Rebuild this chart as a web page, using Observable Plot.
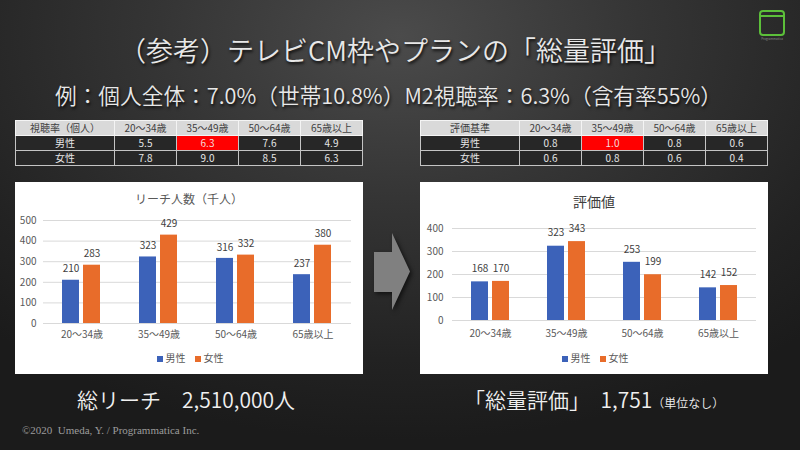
<!DOCTYPE html>
<html lang="ja">
<head>
<meta charset="utf-8">
<script src="https://cdn.jsdelivr.net/npm/d3@7"></script>
<script src="https://cdn.jsdelivr.net/npm/@observablehq/plot@0.6"></script>
<style>
  html, body { margin: 0; padding: 0; background: #1c1c1c; }
  #slide {
    position: relative; width: 800px; height: 450px; overflow: hidden;
    background: radial-gradient(ellipse 75% 90% at 50% 8%, #4b4b4b 0%, #353535 40%, #222 80%, #1b1b1b 100%);
    font-family: "Noto Sans CJK JP", "Noto Sans", sans-serif;
  }
  .abs { position: absolute; }
  .light { font-family: "Noto Sans CJK JP DemiLight", "Noto Sans CJK JP Light", "Noto Sans CJK JP", sans-serif; font-weight: 300; }
  #title {
    left: 0; width: 790px; top: 31px; text-align: center;
    font-size: 27px; line-height: 38px; color: #e8e8e8;
    text-shadow: 1px 2px 3px rgba(0,0,0,0.85);
  }
  #subtitle {
    left: 0; width: 777px; top: 81px; text-align: center;
    font-size: 21.7px; line-height: 28px; color: #e8e8e8;
    text-shadow: 1px 2px 3px rgba(0,0,0,0.85);
  }
  table.tbl {
    position: absolute; border-collapse: collapse; table-layout: fixed;
    font-size: 10px; top: 120px; width: 347px;
  }
  table.tbl td {
    border: 1px solid #c4c4c4; height: 14px; padding: 0; text-align: center;
    line-height: 14px; color: #e6e6e6; background: #272727;
  }
  table.tbl tr.head td { background: #d9d9d9; color: #404040; border-color: #f4f4f4; }
  table.tbl td.hl { background: #ff0000; color: #f6dede; }
  .box { position: absolute; top: 182px; width: 348px; height: 192px; background: #fff; }
  .ctitle { position: absolute; left: 0; width: 348px; text-align: center; color: #595959; }
  .chart { position: absolute; left: 0; top: 0; }
  .legend {
    position: absolute; left: 0; width: 350px; top: 169px; display: flex; justify-content: center;
    gap: 9px; font-size: 10px; color: #595959; line-height: 14px;
  }
  .legend span.sw { display: inline-block; width: 6px; height: 6px; margin-right: 3px; vertical-align: 0px; }
  .big { font-size: 21px; color: #f0f0f0; line-height: 28px; white-space: pre; top: 385px; }
  #copy {
    left: 22px; top: 424px; font-family: "Liberation Serif", serif; font-size: 11px; color: #9c9c9c; white-space: pre;
  }
  #logo {
    left: 759px; top: 10px; width: 22px; height: 22px; border: 2px solid #5cbf3a; border-radius: 4px;
  }
  #logo .bar { position: absolute; left: 0; right: 0; top: 3px; border-top: 2px solid #5cbf3a; }
  #logoText { left: 752px; top: 37px; width: 40px; text-align: center; font-size: 3px; color: #888; }
</style>
</head>
<body>
<div id="slide">
  <div id="title" class="abs light">（参考）テレビCM枠やプランの「総量評価」</div>
  <div id="subtitle" class="abs light">例：個人全体：7.0%（世帯10.8%）M2視聴率：6.3%（含有率55%）</div>
  <div id="logo" class="abs"><div class="bar"></div></div>
  <div id="logoText" class="abs">Programmatica</div>

  <table id="t1" class="tbl" style="left:15px"></table>
  <table id="t2" class="tbl" style="left:420px"></table>

  <div class="box" id="box1" style="left:15px">
    <div class="ctitle" style="top:8px;font-size:12px;line-height:18px">リーチ人数（千人）</div>
    <div class="chart" id="c1"></div>
    <div class="legend" id="lg1"></div>
  </div>
  <div class="box" id="box2" style="left:420px">
    <div class="ctitle" style="top:9px;font-size:14px;line-height:20px;color:#404040">評価値</div>
    <div class="chart" id="c2"></div>
    <div class="legend" id="lg2"></div>
  </div>

  <svg class="abs" style="left:370px;top:228px" width="46" height="88">
    <polygon points="4,24 22,24 22,5 40,43.5 22,82 22,64 4,64" fill="#808080" style="filter:drop-shadow(2px 2px 2px rgba(0,0,0,0.6))"></polygon>
  </svg>

  <div class="abs big light" id="bl" style="left:77px">総リーチ　2,510,000人</div>
  <div class="abs big light" id="br" style="left:464px">「総量評価」　1,751<span style="font-size:12px">（単位なし）</span></div>
  <div id="copy" class="abs">©2020  Umeda, Y. / Programmatica Inc.</div>
</div>

<script>
// ---- data ----
const ages = ["20～34歳", "35～49歳", "50～64歳", "65歳以上"];
const sexes = ["男性", "女性"];
const colors = ["#3c62b9", "#e86c2a"];

const ratingHeader = "視聴率（個人）";
const ratingMale = [5.5, 6.3, 7.6, 4.9];
const ratingFemale = [7.8, 9.0, 8.5, 6.3];

const weightHeader = "評価基準";
const weightMale = [0.8, 1.0, 0.8, 0.6];
const weightFemale = [0.6, 0.8, 0.6, 0.4];

const highlightRow = "男性";
const highlightCol = "35～49歳";

const reachTitle = "リーチ人数（千人）";
const reachMale = [210, 323, 316, 237];
const reachFemale = [283, 429, 332, 380];
const reachTicks = [0, 100, 200, 300, 400, 500];

const scoreTitle = "評価値";
const scoreMale = [168, 323, 253, 142];
const scoreFemale = [170, 343, 199, 152];
const scoreTicks = [0, 100, 200, 300, 400];

// ---- tables ----
function buildTable(id, header, male, female) {
  const t = document.getElementById(id);
  const cg = document.createElement("colgroup");
  [99, 62, 62, 62, 62].forEach(w => { const c = document.createElement("col"); c.style.width = w + "px"; cg.appendChild(c); });
  t.appendChild(cg);
  const rows = [
    {cls: "head", name: header, cells: ages},
    {cls: "", name: sexes[0], cells: male.map(v => v.toFixed(1))},
    {cls: "", name: sexes[1], cells: female.map(v => v.toFixed(1))}
  ];
  rows.forEach(r => {
    const tr = document.createElement("tr");
    if (r.cls) tr.className = r.cls;
    const th = document.createElement("td"); th.textContent = r.name; tr.appendChild(th);
    r.cells.forEach((v, i) => {
      const td = document.createElement("td");
      td.textContent = v;
      if (r.name === highlightRow && ages[i] === highlightCol) td.className = "hl";
      tr.appendChild(td);
    });
    t.appendChild(tr);
  });
}
buildTable("t1", ratingHeader, ratingMale, ratingFemale);
buildTable("t2", weightHeader, weightMale, weightFemale);

// ---- charts ----
function barChart(male, female, ticks, o) {
  const data = ages.flatMap((a, i) => [
    {age: a, sex: sexes[0], value: male[i]},
    {age: a, sex: sexes[1], value: female[i]}
  ]);
  return Plot.plot({
    width: 348, height: 192,
    marginTop: o.mt, marginBottom: o.mb, marginLeft: o.ml, marginRight: o.mr,
    style: {fontFamily: "'Noto Sans CJK JP', sans-serif", fontSize: "10px", color: "#595959", background: "transparent", overflow: "visible"},
    fx: {domain: ages, padding: 0, label: null, tickSize: 0, tickPadding: o.fxPad, axis: "bottom"},
    x: {domain: sexes, axis: null, paddingInner: 0.19, paddingOuter: 0.88},
    y: {domain: [ticks[0], ticks[ticks.length - 1]], ticks: ticks, tickSize: 0, tickPadding: o.yPad, label: null},
    color: {domain: sexes, range: colors},
    marks: [
      Plot.ruleY(ticks, {stroke: "#d9d9d9", strokeWidth: 1}),
      Plot.barY(data, {fx: "age", x: "sex", y: "value", fill: "sex"}),
      Plot.text(data, {fx: "age", x: "sex", y: "value", text: d => String(d.value), dy: o.dy, fill: "#404040", fontSize: 10})
    ]
  });
}
document.getElementById("c1").appendChild(barChart(reachMale, reachFemale, reachTicks,
  {mt: 38, mb: 51, ml: 28, mr: 12, fxPad: 7, yPad: 7, dy: -11}));
document.getElementById("c2").appendChild(barChart(scoreMale, scoreFemale, scoreTicks,
  {mt: 46, mb: 54, ml: 30, mr: 11, fxPad: 9, yPad: 9, dy: -13}));

function legend(id) {
  const el = document.getElementById(id);
  sexes.forEach((s, i) => {
    const d = document.createElement("div");
    d.innerHTML = `<span class="sw" style="background:${colors[i]}"></span>${s}`;
    el.appendChild(d);
  });
}
legend("lg1");
legend("lg2");
</script>
</body>
</html>
